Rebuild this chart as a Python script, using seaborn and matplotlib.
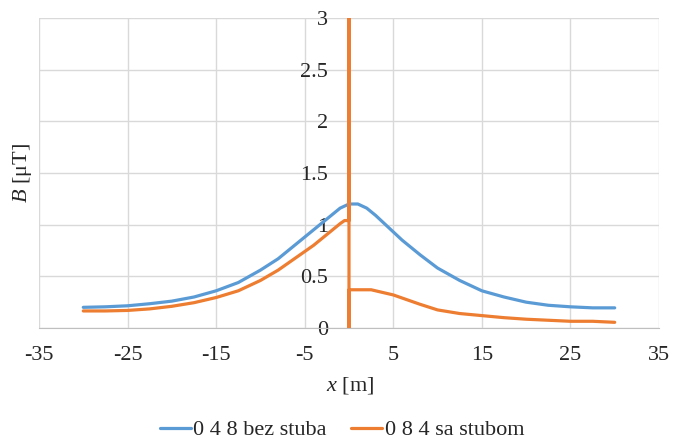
import numpy as np
import pandas as pd
import matplotlib
matplotlib.use("Agg")
import matplotlib.pyplot as plt
import seaborn as sns
from matplotlib.ticker import FuncFormatter, MultipleLocator

# series 1: without pole
x_bez = [-30, -27.5, -25, -22.5, -20, -17.5, -15, -12.5, -10, -8, -6, -4, -3, -2, -1,
         0, 1, 2, 3, 4, 5, 6, 8, 10, 12.5, 15, 17.5, 20, 22.5, 25, 27.5, 30]
b_bez = [0.20, 0.205, 0.215, 0.235, 0.26, 0.30, 0.36, 0.44, 0.56, 0.67, 0.81, 0.95, 1.02, 1.09, 1.16,
         1.20, 1.20, 1.16, 1.09, 1.01, 0.93, 0.85, 0.71, 0.58, 0.46, 0.36, 0.30, 0.25, 0.22, 0.205, 0.195, 0.195]

# series 2: with pole (spike at x = 0)
x_sa = [-30, -27.5, -25, -22.5, -20, -17.5, -15, -12.5, -10, -8, -6, -4, -3, -2, -1, -0.5,
        0, 0, 0, 0, 1, 2.5, 4, 5, 6, 8, 10, 12.5, 15, 17.5, 20, 22.5, 25, 27.5, 30]
b_sa = [0.165, 0.165, 0.17, 0.185, 0.21, 0.245, 0.295, 0.36, 0.46, 0.56, 0.68, 0.80, 0.87, 0.94, 1.01, 1.04,
        1.04, 5.0, 0.0, 0.37, 0.37, 0.37, 0.34, 0.32, 0.29, 0.23, 0.175, 0.14, 0.12, 0.10, 0.085, 0.075, 0.065, 0.065, 0.055]

labels = ["0 4 8 bez stuba", "0 8 4 sa stubom"]
colors = ["#5B9BD5", "#ED7D31"]

df = pd.concat([
    pd.DataFrame({"x": x_bez, "B": b_bez, "serija": labels[0]}),
    pd.DataFrame({"x": x_sa, "B": b_sa, "serija": labels[1]}),
], ignore_index=True)

sns.set_style("white")
plt.rcParams["font.family"] = ["Liberation Serif", "DejaVu Serif"]
plt.rcParams["axes.unicode_minus"] = False
plt.rcParams["mathtext.fontset"] = "custom"
plt.rcParams["mathtext.rm"] = "Liberation Serif"
plt.rcParams["mathtext.it"] = "Liberation Serif:italic"

fig = plt.figure(figsize=(6.84, 4.4), dpi=100)
ax = fig.add_axes([39 / 684, 1 - 328 / 440, 620 / 684, 310 / 440])

sns.lineplot(data=df, x="x", y="B", hue="serija", palette=colors,
             estimator=None, sort=False, linewidth=2.3, ax=ax, legend=False)

ax.set_xlim(-35, 35)
ax.set_ylim(0, 3)
ax.set_xticks(np.arange(-35, 36, 10))
ax.yaxis.set_major_locator(MultipleLocator(0.5))
ax.yaxis.set_major_formatter(FuncFormatter(lambda v, p: f"{v:g}"))

ax.grid(True, color="#D9D9D9", linewidth=1)
ax.set_axisbelow(True)
for s in ["top", "right"]:
    ax.spines[s].set_visible(False)
ax.spines["bottom"].set_color("#BFBFBF")
ax.spines["left"].set_position(("data", 0))
ax.spines["left"].set_visible(False)

ax.tick_params(axis="x", length=0, pad=13, labelsize=16)
ax.tick_params(axis="y", length=0, pad=15, labelsize=16)
ax.set_xlabel("")
ax.set_ylabel("")

fig.text(22 / 684, 1 - 173 / 440, r"$B$ [μT]", rotation=90, ha="center", va="center", fontsize=16)
fig.text(350 / 684, 1 - 385 / 440, r"$x$ [m]", ha="center", va="center", fontsize=16)

handles = [plt.Line2D([], [], color=c, linewidth=2.3) for c in colors]
fig.legend(handles, labels, loc="center", bbox_to_anchor=(0.5, 1 - 430 / 440), ncol=2,
           frameon=False, fontsize=16, handlelength=1.4, handletextpad=0.1, columnspacing=1.1)

fig.savefig("out.png", dpi=100)
